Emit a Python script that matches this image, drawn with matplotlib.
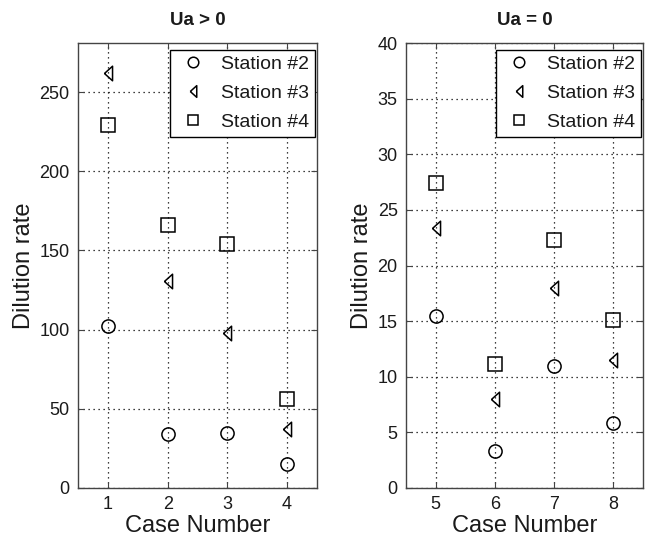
import numpy as np
import matplotlib
matplotlib.use("Agg")
import matplotlib.pyplot as plt

plt.rcParams['font.family'] = ['Liberation Sans', 'DejaVu Sans']

# values
cases_a = [1, 2, 3, 4]
st2_a = [102, 34, 35, 15]
st3_a = [262, 131, 98, 37]
st4_a = [229, 166, 154, 56]

cases_b = [5, 6, 7, 8]
st2_b = [15.5, 3.35, 10.95, 5.85]
st3_b = [23.4, 8.0, 18.0, 11.5]
st4_b = [27.4, 11.15, 22.3, 15.1]

labels = ['Station #2', 'Station #3', 'Station #4']
# narrow left-pointing triangle like the MATLAB '<' marker
tri = [(-0.5, 0.0), (0.5, 0.9), (0.5, -0.9), (-0.5, 0.0)]
markers = ['o', tri, 's']
msizes = [9.5, 10.5, 9.5]

txt = '#1a1a1a'

fig = plt.figure(figsize=(6.45, 5.39), dpi=100)
ax1 = fig.add_axes([78 / 645, 1 - 488 / 539, 239 / 645, 445 / 539])
ax2 = fig.add_axes([406 / 645, 1 - 488 / 539, 237 / 645, 445 / 539])


def draw(ax, cases, series, ylim, yticks, title):
    for vals, m, ms, lab in zip(series, markers, msizes, labels):
        ax.plot(cases, vals, linestyle='none', marker=m, markersize=ms,
                markerfacecolor='none', markeredgecolor='black',
                markeredgewidth=1.1, label=lab)
    ax.set_xlim(cases[0] - 0.5, cases[-1] + 0.5)
    ax.set_ylim(*ylim)
    ax.set_xticks(cases)
    ax.set_yticks(yticks)
    ax.grid(True, linestyle=(0, (1, 3)), color='black', linewidth=0.9)
    ax.tick_params(direction='in', top=True, right=True, length=4,
                   labelsize=13, labelcolor=txt, color='#444444', pad=6)
    for s in ax.spines.values():
        s.set_color('#444444')
        s.set_linewidth(1.0)
    ax.set_xlabel('Case Number', fontsize=17, color=txt, labelpad=1)
    ax.set_ylabel('Dilution rate', fontsize=17, color=txt, labelpad=3)
    ax.set_title(title, fontsize=13.5, fontweight='bold', color=txt, pad=13)
    leg = ax.legend(loc='upper right', bbox_to_anchor=(0.992, 0.985),
                    fontsize=14, frameon=True, fancybox=False,
                    edgecolor='black', framealpha=1, handlelength=1.8,
                    handletextpad=0.55, borderpad=0.3, labelspacing=0.58,
                    borderaxespad=0.0, markerscale=0.8)
    leg.get_frame().set_linewidth(1.0)
    for t in leg.get_texts():
        t.set_color(txt)


draw(ax1, cases_a, [st2_a, st3_a, st4_a], (0, 281), [0, 50, 100, 150, 200, 250], 'Ua > 0')
draw(ax2, cases_b, [st2_b, st3_b, st4_b], (0, 40), [0, 5, 10, 15, 20, 25, 30, 35, 40], 'Ua = 0')

fig.savefig('out.png', dpi=100)
